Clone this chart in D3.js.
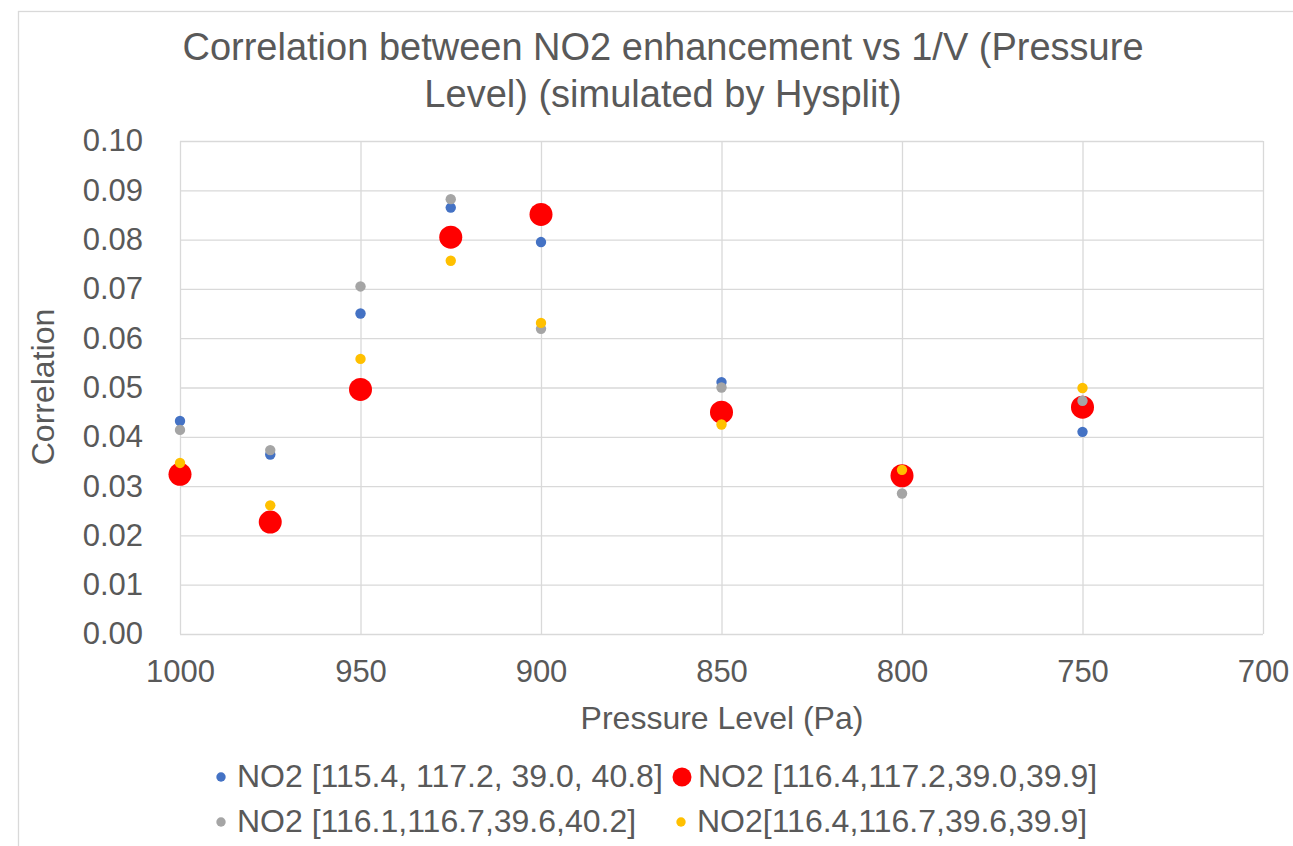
<!DOCTYPE html>
<html>
  <head>
    <meta charset="UTF-8">
    <script src="https://d3js.org/d3.v7.min.js"></script>
    <style>
        body {
            margin: 0;
            background: #fff;
        }
        svg text {
            font-family: "Liberation Sans", Arial, sans-serif;
            fill: #595959;
        }
        .grid line {
            stroke: #d9d9d9;
            stroke-width: 1.3;
        }
        .tick text {
            font-size: 31px;
        }
        .chartTitle {
            font-size: 38px;
            text-anchor: middle;
        }
        .axisTitle {
            font-size: 32px;
            text-anchor: middle;
        }
        .legendLabel {
            font-size: 32px;
        }
    </style>
  </head>
  <body>
    <svg id="chart" width="1293" height="846"></svg>
    <script>
        // pressure levels (x) and correlations for each trajectory box
        let pressure = [1000, 975, 950, 925, 900, 850, 800, 750]
        let corrA = [0.0432, 0.0364, 0.0650, 0.0865, 0.0795, 0.0511, 0.0322, 0.0410]
        let corrB = [0.0324, 0.0227, 0.0496, 0.0805, 0.0851, 0.0450, 0.0321, 0.0460]
        let corrC = [0.0414, 0.0373, 0.0705, 0.0882, 0.0619, 0.0500, 0.0285, 0.0473]
        let corrD = [0.0347, 0.0261, 0.0558, 0.0757, 0.0631, 0.0425, 0.0333, 0.0499]

        let seriesNames = ['NO2 [115.4, 117.2, 39.0, 40.8]', 'NO2 [116.4,117.2,39.0,39.9]',
                           'NO2 [116.1,116.7,39.6,40.2]', 'NO2[116.4,116.7,39.6,39.9]']
        let seriesColors = ['#4472C4', '#FF0000', '#A5A5A5', '#FFC000']
        let seriesValues = [corrA, corrB, corrC, corrD]

        let xTicks = [1000, 950, 900, 850, 800, 750, 700]
        let yTicks = [0, 0.01, 0.02, 0.03, 0.04, 0.05, 0.06, 0.07, 0.08, 0.09, 0.10]

        let svg = d3.select('#chart')

        // chart frame (runs off the right/bottom edge as in the screenshot)
        svg.append('rect')
            .attr('x', 18.5).attr('y', 11.5)
            .attr('width', 1400).attr('height', 1000)
            .attr('fill', 'none')
            .attr('stroke', '#d9d9d9')
            .attr('stroke-width', 1.3)

        let plot = {left: 180, right: 1263, top: 141, bottom: 634}

        let x = d3.scaleLinear().domain([1000, 700]).range([plot.left, plot.right])
        let y = d3.scaleLinear().domain([0, 0.1]).range([plot.bottom, plot.top])

        // vertical gridlines + x labels
        let xAxis = svg.append('g')
            .attr('class', 'grid')
            .attr('transform', `translate(0, ${plot.bottom})`)
            .call(d3.axisBottom(x).tickValues(xTicks)
                .tickSize(-(plot.bottom - plot.top)).tickPadding(26)
                .tickFormat(d3.format('d')))
        xAxis.select('.domain').remove()

        // horizontal gridlines + y labels
        let yAxis = svg.append('g')
            .attr('class', 'grid')
            .attr('transform', `translate(${plot.left}, 0)`)
            .call(d3.axisLeft(y).tickValues(yTicks)
                .tickSize(-(plot.right - plot.left)).tickPadding(37)
                .tickFormat(d3.format('.2f')))
        yAxis.select('.domain').remove()

        // points, series drawn in legend order
        seriesValues.forEach((vals, s) => {
            svg.append('g')
                .selectAll('circle')
                .data(vals)
                .enter()
                .append('circle')
                .attr('cx', (d, i) => x(pressure[i]))
                .attr('cy', d => y(d))
                .attr('r', s === 1 ? 11.5 : 5.2)
                .attr('fill', seriesColors[s])
        })

        // titles
        let title = svg.append('text')
            .attr('class', 'chartTitle')
            .attr('x', 663)
        title.append('tspan').attr('x', 663).attr('y', 60)
            .text('Correlation between NO2 enhancement vs 1/V (Pressure')
        title.append('tspan').attr('x', 663).attr('y', 107)
            .text('Level) (simulated by Hysplit)')

        svg.append('text')
            .attr('class', 'axisTitle')
            .attr('transform', 'translate(54, 387) rotate(-90)')
            .text('Correlation')

        svg.append('text')
            .attr('class', 'axisTitle')
            .attr('x', 722).attr('y', 729)
            .text('Pressure Level (Pa)')

        // legend, two columns
        let legendPos = [[221, 777], [682, 777], [221, 822], [681, 822]]
        let legend = svg.append('g')
            .selectAll('g')
            .data(seriesNames)
            .enter()
            .append('g')
            .attr('transform', (d, i) => `translate(${legendPos[i][0]}, ${legendPos[i][1]})`)
        legend.append('circle')
            .attr('r', (d, i) => i === 1 ? 9.5 : 4.7)
            .attr('fill', (d, i) => seriesColors[i])
        legend.append('text')
            .attr('class', 'legendLabel')
            .attr('x', 16)
            .attr('y', 10)
            .text(d => d)
    </script>
  </body>
</html>
